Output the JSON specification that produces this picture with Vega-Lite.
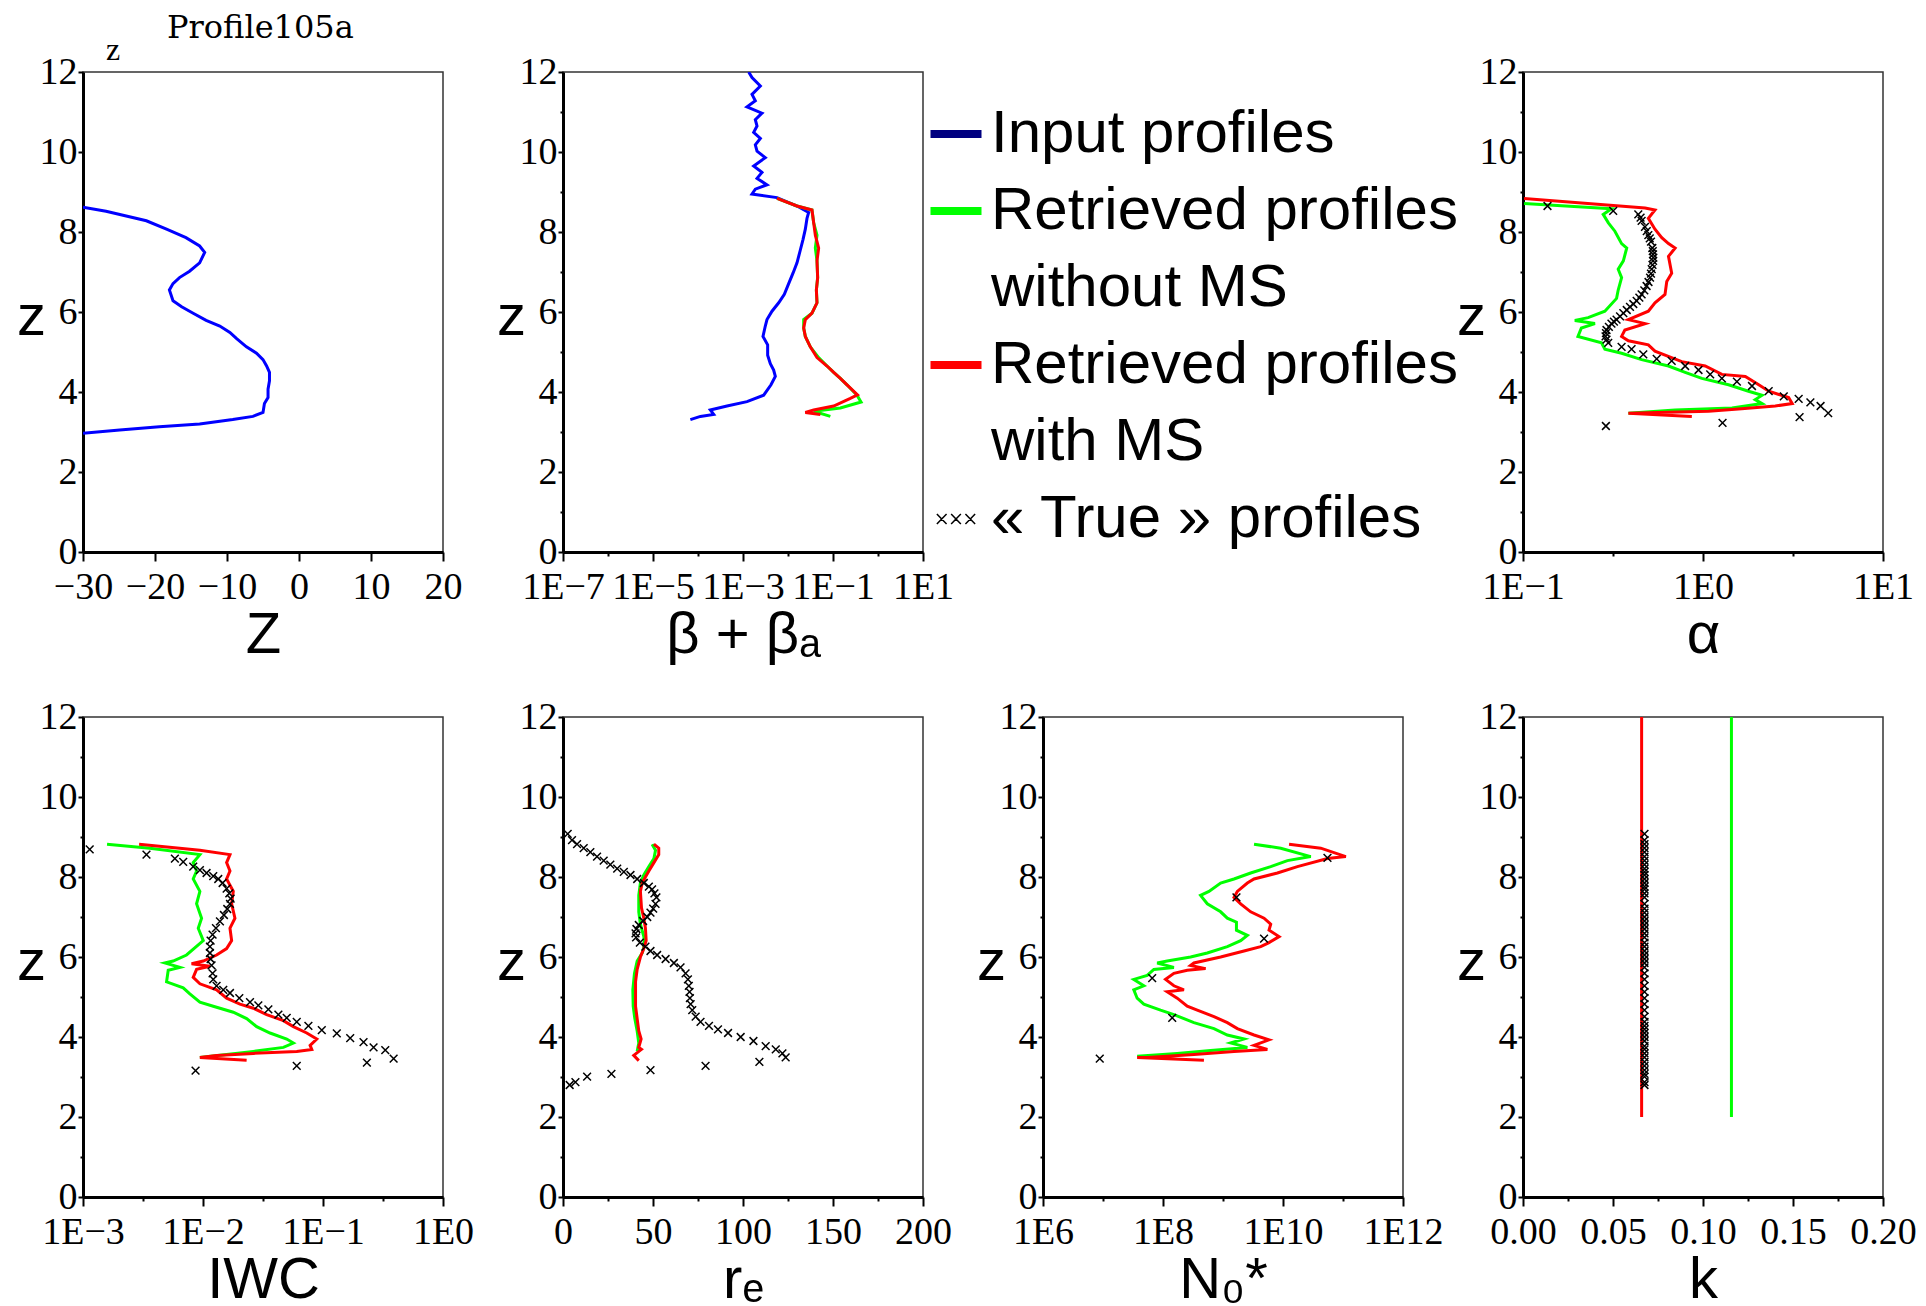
{
  "$schema": "https://vega.github.io/schema/vega-lite/v6.json",
  "background": "white",
  "padding": {"left": 15, "top": 11, "right": 0, "bottom": 0},
  "columns": 4,
  "spacing": {"row": 165, "column": 120},
  "bounds": "flush",
  "config": {
    "view": {"stroke": "#333333", "strokeWidth": 1.5},
    "axis": {
      "domainColor": "black", "domainWidth": 3, "tickColor": "black", "tickWidth": 2,
      "labelFont": "Liberation Serif", "labelFontSize": 38, "labelColor": "black",
      "titleFont": "Liberation Sans", "titleFontSize": 58, "titleFontWeight": "normal", "titleColor": "black",
      "grid": false, "labelOverlap": false, "labelFlush": false, "labelBound": false
    },
    "axisX": {"titleBaseline": "alphabetic", "titleY": 100, "labelPadding": 7, "labelBaseline": "top"},
    "axisY": {"titleAngle": 0, "titleX": -52, "titleY": 245, "titleAlign": "center", "titleBaseline": "middle", "labelPadding": 1, "labelBaseline": "middle"}
  },
  "datasets": {
    "Z": [
      {"s":"in","v":-30,"z":8.62},{"s":"in","v":-26.8,"z":8.52},{"s":"in","v":-21.2,"z":8.28},{"s":"in","v":-18.4,"z":8.07},{"s":"in","v":-15.7,"z":7.86},{"s":"in","v":-13.8,"z":7.65},{"s":"in","v":-13.1,"z":7.49},{"s":"in","v":-13.8,"z":7.23},{"s":"in","v":-15.2,"z":7.02},{"s":"in","v":-16.6,"z":6.86},{"s":"in","v":-17.5,"z":6.71},{"s":"in","v":-18,"z":6.55},{"s":"in","v":-17.5,"z":6.28},{"s":"in","v":-16.3,"z":6.13},{"s":"in","v":-14.7,"z":5.97},{"s":"in","v":-12.9,"z":5.79},{"s":"in","v":-11,"z":5.65},{"s":"in","v":-9.6,"z":5.49},{"s":"in","v":-8.7,"z":5.34},{"s":"in","v":-7.3,"z":5.13},{"s":"in","v":-5.9,"z":4.97},{"s":"in","v":-5,"z":4.81},{"s":"in","v":-4.5,"z":4.65},{"s":"in","v":-4.1,"z":4.49},{"s":"in","v":-4.1,"z":4.28},{"s":"in","v":-4.3,"z":4.07},{"s":"in","v":-4.3,"z":3.86},{"s":"in","v":-4.8,"z":3.71},{"s":"in","v":-5,"z":3.49},{"s":"in","v":-6.4,"z":3.39},{"s":"in","v":-9.2,"z":3.31},{"s":"in","v":-13.8,"z":3.2},{"s":"in","v":-19.4,"z":3.13},{"s":"in","v":-24.9,"z":3.05},{"s":"in","v":-30,"z":2.97}
    ],
    "B": [
      {"s":"in","v":0.001337,"z":12.0},{"s":"in","v":0.001585,"z":11.86},{"s":"in","v":0.00243,"z":11.65},{"s":"in","v":0.001585,"z":11.44},{"s":"in","v":0.001879,"z":11.28},{"s":"in","v":0.001227,"z":11.13},{"s":"in","v":0.00264,"z":10.97},{"s":"in","v":0.001879,"z":10.81},{"s":"in","v":0.00205,"z":10.65},{"s":"in","v":0.001726,"z":10.49},{"s":"in","v":0.00243,"z":10.34},{"s":"in","v":0.001879,"z":10.18},{"s":"in","v":0.00205,"z":10.02},{"s":"in","v":0.00313,"z":9.86},{"s":"in","v":0.001726,"z":9.65},{"s":"in","v":0.00264,"z":9.49},{"s":"in","v":0.00205,"z":9.34},{"s":"in","v":0.00341,"z":9.18},{"s":"in","v":0.001879,"z":9.07},{"s":"in","v":0.001585,"z":8.95},{"s":"in","v":0.0057,"z":8.86},{"s":"in","v":0.01585,"z":8.65},{"s":"in","v":0.02877,"z":8.49},{"s":"in","v":0.02642,"z":8.34},{"s":"in","v":0.02427,"z":8.07},{"s":"in","v":0.02153,"z":7.81},{"s":"in","v":0.01879,"z":7.55},{"s":"in","v":0.01585,"z":7.23},{"s":"in","v":0.01291,"z":6.97},{"s":"in","v":0.01035,"z":6.71},{"s":"in","v":0.00829,"z":6.44},{"s":"in","v":0.00621,"z":6.23},{"s":"in","v":0.00441,"z":6.02},{"s":"in","v":0.00341,"z":5.81},{"s":"in","v":0.00313,"z":5.65},{"s":"in","v":0.00278,"z":5.39},{"s":"in","v":0.00353,"z":5.18},{"s":"in","v":0.00353,"z":4.92},{"s":"in","v":0.00405,"z":4.71},{"s":"in","v":0.0048,"z":4.55},{"s":"in","v":0.00523,"z":4.39},{"s":"in","v":0.00419,"z":4.18},{"s":"in","v":0.00288,"z":3.92},{"s":"in","v":0.001227,"z":3.76},{"s":"in","v":0.000441,"z":3.65},{"s":"in","v":0.000188,"z":3.55},{"s":"in","v":0.000223,"z":3.44},{"s":"in","v":0.000113,"z":3.39},{"s":"in","v":0.0000676,"z":3.31},
      {"s":"nms","v":0.0057,"z":8.84},{"s":"nms","v":0.01585,"z":8.65},{"s":"nms","v":0.0341,"z":8.55},{"s":"nms","v":0.0372,"z":8.23},{"s":"nms","v":0.0441,"z":7.92},{"s":"nms","v":0.0405,"z":7.6},{"s":"nms","v":0.0441,"z":7.28},{"s":"nms","v":0.0456,"z":6.86},{"s":"nms","v":0.0427,"z":6.55},{"s":"nms","v":0.0441,"z":6.23},{"s":"nms","v":0.0341,"z":5.97},{"s":"nms","v":0.0223,"z":5.81},{"s":"nms","v":0.0223,"z":5.6},{"s":"nms","v":0.02427,"z":5.39},{"s":"nms","v":0.0313,"z":5.13},{"s":"nms","v":0.048,"z":4.86},{"s":"nms","v":0.0736,"z":4.65},{"s":"nms","v":0.1035,"z":4.49},{"s":"nms","v":0.1456,"z":4.34},{"s":"nms","v":0.2046,"z":4.18},{"s":"nms","v":0.341,"z":3.92},{"s":"nms","v":0.42,"z":3.75},{"s":"nms","v":0.1456,"z":3.6},{"s":"nms","v":0.0372,"z":3.52},{"s":"nms","v":0.0873,"z":3.39},
      {"s":"ms","v":0.0057,"z":8.84},{"s":"ms","v":0.01585,"z":8.65},{"s":"ms","v":0.0341,"z":8.55},{"s":"ms","v":0.0372,"z":8.23},{"s":"ms","v":0.0405,"z":7.92},{"s":"ms","v":0.048,"z":7.6},{"s":"ms","v":0.0441,"z":7.28},{"s":"ms","v":0.0456,"z":6.86},{"s":"ms","v":0.0427,"z":6.55},{"s":"ms","v":0.0441,"z":6.23},{"s":"ms","v":0.0341,"z":5.97},{"s":"ms","v":0.02427,"z":5.81},{"s":"ms","v":0.0223,"z":5.6},{"s":"ms","v":0.02427,"z":5.39},{"s":"ms","v":0.0313,"z":5.13},{"s":"ms","v":0.0441,"z":4.86},{"s":"ms","v":0.0736,"z":4.65},{"s":"ms","v":0.1035,"z":4.49},{"s":"ms","v":0.1456,"z":4.34},{"s":"ms","v":0.2046,"z":4.18},{"s":"ms","v":0.35,"z":3.93},{"s":"ms","v":0.2427,"z":3.84},{"s":"ms","v":0.1035,"z":3.65},{"s":"ms","v":0.0372,"z":3.55},{"s":"ms","v":0.02427,"z":3.49},{"s":"ms","v":0.0524,"z":3.44}
    ],
    "A": [
      {"s":"nms","v":0.1014,"z":8.71},{"s":"nms","v":0.31,"z":8.58},{"s":"nms","v":0.279,"z":8.44},{"s":"nms","v":0.298,"z":8.23},{"s":"nms","v":0.324,"z":8.02},{"s":"nms","v":0.353,"z":7.71},{"s":"nms","v":0.377,"z":7.6},{"s":"nms","v":0.361,"z":7.28},{"s":"nms","v":0.338,"z":7.07},{"s":"nms","v":0.353,"z":6.86},{"s":"nms","v":0.338,"z":6.55},{"s":"nms","v":0.331,"z":6.34},{"s":"nms","v":0.285,"z":6.02},{"s":"nms","v":0.23,"z":5.86},{"s":"nms","v":0.194,"z":5.79},{"s":"nms","v":0.251,"z":5.71},{"s":"nms","v":0.211,"z":5.6},{"s":"nms","v":0.202,"z":5.39},{"s":"nms","v":0.273,"z":5.23},{"s":"nms","v":0.285,"z":5.07},{"s":"nms","v":0.353,"z":4.97},{"s":"nms","v":0.456,"z":4.81},{"s":"nms","v":0.643,"z":4.65},{"s":"nms","v":0.796,"z":4.49},{"s":"nms","v":0.985,"z":4.34},{"s":"nms","v":1.387,"z":4.18},{"s":"nms","v":1.79,"z":4.02},{"s":"nms","v":2.13,"z":3.92},{"s":"nms","v":1.95,"z":3.81},{"s":"nms","v":2.13,"z":3.71},{"s":"nms","v":1.449,"z":3.6},{"s":"nms","v":0.7,"z":3.55},{"s":"nms","v":0.385,"z":3.47},
      {"s":"ms","v":0.1014,"z":8.84},{"s":"ms","v":0.477,"z":8.6},{"s":"ms","v":0.541,"z":8.55},{"s":"ms","v":0.497,"z":8.34},{"s":"ms","v":0.541,"z":8.07},{"s":"ms","v":0.59,"z":7.86},{"s":"ms","v":0.643,"z":7.71},{"s":"ms","v":0.7,"z":7.6},{"s":"ms","v":0.643,"z":7.39},{"s":"ms","v":0.67,"z":6.97},{"s":"ms","v":0.629,"z":6.76},{"s":"ms","v":0.615,"z":6.44},{"s":"ms","v":0.541,"z":6.23},{"s":"ms","v":0.497,"z":6.02},{"s":"ms","v":0.385,"z":5.81},{"s":"ms","v":0.477,"z":5.71},{"s":"ms","v":0.368,"z":5.55},{"s":"ms","v":0.353,"z":5.39},{"s":"ms","v":0.385,"z":5.28},{"s":"ms","v":0.497,"z":5.18},{"s":"ms","v":0.541,"z":5.02},{"s":"ms","v":0.762,"z":4.76},{"s":"ms","v":1.028,"z":4.65},{"s":"ms","v":1.273,"z":4.44},{"s":"ms","v":1.718,"z":4.39},{"s":"ms","v":2.04,"z":4.18},{"s":"ms","v":2.32,"z":4.02},{"s":"ms","v":2.99,"z":3.86},{"s":"ms","v":3.13,"z":3.71},{"s":"ms","v":2.52,"z":3.65},{"s":"ms","v":1.64,"z":3.58},{"s":"ms","v":1.074,"z":3.52},{"s":"ms","v":0.385,"z":3.47},{"s":"ms","v":0.867,"z":3.39},
      {"s":"tr","v":0.1368,"z":8.65},{"s":"tr","v":0.317,"z":8.53},{"s":"tr","v":0.437,"z":8.44},{"s":"tr","v":0.45,"z":8.36},{"s":"tr","v":0.456,"z":8.28},{"s":"tr","v":0.476,"z":8.13},{"s":"tr","v":0.487,"z":8.02},{"s":"tr","v":0.497,"z":7.92},{"s":"tr","v":0.506,"z":7.84},{"s":"tr","v":0.514,"z":7.76},{"s":"tr","v":0.523,"z":7.6},{"s":"tr","v":0.526,"z":7.52},{"s":"tr","v":0.528,"z":7.44},{"s":"tr","v":0.53,"z":7.36},{"s":"tr","v":0.528,"z":7.28},{"s":"tr","v":0.524,"z":7.18},{"s":"tr","v":0.519,"z":7.07},{"s":"tr","v":0.514,"z":6.96},{"s":"tr","v":0.508,"z":6.86},{"s":"tr","v":0.498,"z":6.75},{"s":"tr","v":0.486,"z":6.65},{"s":"tr","v":0.472,"z":6.54},{"s":"tr","v":0.456,"z":6.44},{"s":"tr","v":0.443,"z":6.36},{"s":"tr","v":0.428,"z":6.28},{"s":"tr","v":0.41,"z":6.2},{"s":"tr","v":0.393,"z":6.13},{"s":"tr","v":0.377,"z":6.05},{"s":"tr","v":0.361,"z":5.97},{"s":"tr","v":0.346,"z":5.89},{"s":"tr","v":0.331,"z":5.81},{"s":"tr","v":0.32,"z":5.76},{"s":"tr","v":0.31,"z":5.71},{"s":"tr","v":0.3,"z":5.63},{"s":"tr","v":0.291,"z":5.55},{"s":"tr","v":0.289,"z":5.47},{"s":"tr","v":0.2875,"z":5.39},{"s":"tr","v":0.291,"z":5.31},{"s":"tr","v":0.2975,"z":5.23},{"s":"tr","v":0.353,"z":5.13},{"s":"tr","v":0.401,"z":5.07},{"s":"tr","v":0.466,"z":4.94},{"s":"tr","v":0.553,"z":4.83},{"s":"tr","v":0.67,"z":4.78},{"s":"tr","v":0.796,"z":4.65},{"s":"tr","v":0.944,"z":4.55},{"s":"tr","v":1.096,"z":4.44},{"s":"tr","v":1.273,"z":4.34},{"s":"tr","v":1.543,"z":4.26},{"s":"tr","v":1.871,"z":4.15},{"s":"tr","v":2.317,"z":4.02},{"s":"tr","v":2.81,"z":3.89},{"s":"tr","v":3.4,"z":3.83},{"s":"tr","v":3.95,"z":3.74},{"s":"tr","v":4.5,"z":3.65},{"s":"tr","v":4.96,"z":3.47},{"s":"tr","v":3.44,"z":3.37},{"s":"tr","v":1.284,"z":3.23},{"s":"tr","v":0.2887,"z":3.15}
    ],
    "I": [
      {"s":"nms","v":0.001586,"z":8.82},{"s":"nms","v":0.003602,"z":8.72},{"s":"nms","v":0.00942,"z":8.56},{"s":"nms","v":0.00829,"z":8.36},{"s":"nms","v":0.00884,"z":8.15},{"s":"nms","v":0.00829,"z":7.95},{"s":"nms","v":0.00942,"z":7.64},{"s":"nms","v":0.00884,"z":7.33},{"s":"nms","v":0.00973,"z":6.97},{"s":"nms","v":0.00913,"z":6.72},{"s":"nms","v":0.01005,"z":6.41},{"s":"nms","v":0.00729,"z":6.05},{"s":"nms","v":0.00564,"z":5.9},{"s":"nms","v":0.00481,"z":5.85},{"s":"nms","v":0.00641,"z":5.74},{"s":"nms","v":0.00513,"z":5.67},{"s":"nms","v":0.00497,"z":5.38},{"s":"nms","v":0.00684,"z":5.23},{"s":"nms","v":0.00777,"z":5.08},{"s":"nms","v":0.00942,"z":4.87},{"s":"nms","v":0.01217,"z":4.77},{"s":"nms","v":0.01788,"z":4.62},{"s":"nms","v":0.0231,"z":4.46},{"s":"nms","v":0.028,"z":4.26},{"s":"nms","v":0.03619,"z":4.1},{"s":"nms","v":0.04986,"z":3.95},{"s":"nms","v":0.05666,"z":3.85},{"s":"nms","v":0.04677,"z":3.74},{"s":"nms","v":0.02626,"z":3.64},{"s":"nms","v":0.00942,"z":3.49},
      {"s":"ms","v":0.002935,"z":8.82},{"s":"ms","v":0.00942,"z":8.67},{"s":"ms","v":0.01678,"z":8.56},{"s":"ms","v":0.01573,"z":8.36},{"s":"ms","v":0.01678,"z":8.15},{"s":"ms","v":0.01573,"z":7.95},{"s":"ms","v":0.01788,"z":7.64},{"s":"ms","v":0.01732,"z":7.33},{"s":"ms","v":0.01846,"z":6.97},{"s":"ms","v":0.01678,"z":6.72},{"s":"ms","v":0.01732,"z":6.41},{"s":"ms","v":0.01573,"z":6.21},{"s":"ms","v":0.01298,"z":6.05},{"s":"ms","v":0.01005,"z":5.9},{"s":"ms","v":0.00803,"z":5.83},{"s":"ms","v":0.01142,"z":5.77},{"s":"ms","v":0.00884,"z":5.69},{"s":"ms","v":0.00829,"z":5.49},{"s":"ms","v":0.00942,"z":5.33},{"s":"ms","v":0.01298,"z":5.18},{"s":"ms","v":0.01573,"z":4.97},{"s":"ms","v":0.02033,"z":4.82},{"s":"ms","v":0.02626,"z":4.72},{"s":"ms","v":0.03393,"z":4.56},{"s":"ms","v":0.04677,"z":4.41},{"s":"ms","v":0.05666,"z":4.26},{"s":"ms","v":0.07322,"z":4.1},{"s":"ms","v":0.08875,"z":3.95},{"s":"ms","v":0.0781,"z":3.79},{"s":"ms","v":0.08063,"z":3.69},{"s":"ms","v":0.06043,"z":3.64},{"s":"ms","v":0.02626,"z":3.59},{"s":"ms","v":0.01298,"z":3.54},{"s":"ms","v":0.00942,"z":3.49},{"s":"ms","v":0.0231,"z":3.42},
      {"s":"tr","v":0.001137,"z":8.69},{"s":"tr","v":0.00338,"z":8.56},{"s":"tr","v":0.00583,"z":8.46},{"s":"tr","v":0.00684,"z":8.38},{"s":"tr","v":0.00829,"z":8.26},{"s":"tr","v":0.00942,"z":8.17},{"s":"tr","v":0.01071,"z":8.1},{"s":"tr","v":0.01217,"z":8.02},{"s":"tr","v":0.0134,"z":7.95},{"s":"tr","v":0.01457,"z":7.85},{"s":"tr","v":0.01573,"z":7.71},{"s":"tr","v":0.01656,"z":7.59},{"s":"tr","v":0.01699,"z":7.46},{"s":"tr","v":0.01678,"z":7.33},{"s":"tr","v":0.01593,"z":7.2},{"s":"tr","v":0.01494,"z":7.05},{"s":"tr","v":0.01384,"z":6.89},{"s":"tr","v":0.01282,"z":6.72},{"s":"tr","v":0.01202,"z":6.56},{"s":"tr","v":0.01157,"z":6.41},{"s":"tr","v":0.01142,"z":6.26},{"s":"tr","v":0.01142,"z":6.1},{"s":"tr","v":0.01157,"z":5.95},{"s":"tr","v":0.01179,"z":5.79},{"s":"tr","v":0.01202,"z":5.59},{"s":"tr","v":0.01217,"z":5.44},{"s":"tr","v":0.01298,"z":5.28},{"s":"tr","v":0.01475,"z":5.18},{"s":"tr","v":0.01678,"z":5.1},{"s":"tr","v":0.02007,"z":4.97},{"s":"tr","v":0.02464,"z":4.87},{"s":"tr","v":0.02892,"z":4.79},{"s":"tr","v":0.03505,"z":4.69},{"s":"tr","v":0.04248,"z":4.56},{"s":"tr","v":0.04984,"z":4.48},{"s":"tr","v":0.06043,"z":4.38},{"s":"tr","v":0.07557,"z":4.28},{"s":"tr","v":0.0977,"z":4.17},{"s":"tr","v":0.1303,"z":4.09},{"s":"tr","v":0.1685,"z":3.97},{"s":"tr","v":0.2177,"z":3.87},{"s":"tr","v":0.2639,"z":3.74},{"s":"tr","v":0.3303,"z":3.67},{"s":"tr","v":0.3877,"z":3.46},{"s":"tr","v":0.2321,"z":3.36},{"s":"tr","v":0.06043,"z":3.28},{"s":"tr","v":0.00867,"z":3.16}
    ],
    "R": [
      {"s":"nms","v":49.5,"z":8.82},{"s":"nms","v":51.4,"z":8.67},{"s":"nms","v":50.5,"z":8.46},{"s":"nms","v":47.7,"z":8.26},{"s":"nms","v":44.9,"z":8.05},{"s":"nms","v":43,"z":7.85},{"s":"nms","v":42.1,"z":7.54},{"s":"nms","v":42.1,"z":7.13},{"s":"nms","v":43,"z":6.82},{"s":"nms","v":44.9,"z":6.51},{"s":"nms","v":45.3,"z":6.31},{"s":"nms","v":44,"z":6.1},{"s":"nms","v":41.2,"z":5.9},{"s":"nms","v":39.7,"z":5.59},{"s":"nms","v":38.8,"z":5.18},{"s":"nms","v":39,"z":4.77},{"s":"nms","v":39.9,"z":4.46},{"s":"nms","v":41.2,"z":4.15},{"s":"nms","v":42.1,"z":3.85},{"s":"nms","v":41.2,"z":3.64},
      {"s":"ms","v":50.5,"z":8.82},{"s":"ms","v":53.2,"z":8.72},{"s":"ms","v":53.2,"z":8.56},{"s":"ms","v":50.5,"z":8.36},{"s":"ms","v":47.7,"z":8.15},{"s":"ms","v":45.8,"z":8.0},{"s":"ms","v":44,"z":7.85},{"s":"ms","v":43,"z":7.64},{"s":"ms","v":43.6,"z":7.23},{"s":"ms","v":44.9,"z":6.97},{"s":"ms","v":45.8,"z":6.72},{"s":"ms","v":46.2,"z":6.41},{"s":"ms","v":44.9,"z":6.21},{"s":"ms","v":43,"z":6.0},{"s":"ms","v":41.2,"z":5.69},{"s":"ms","v":40.3,"z":5.38},{"s":"ms","v":40.3,"z":5.08},{"s":"ms","v":40.3,"z":4.77},{"s":"ms","v":41.2,"z":4.46},{"s":"ms","v":42.1,"z":4.15},{"s":"ms","v":43.4,"z":3.95},{"s":"ms","v":42.1,"z":3.74},{"s":"ms","v":43.6,"z":3.69},{"s":"ms","v":39.3,"z":3.54},{"s":"ms","v":42.1,"z":3.41},
      {"s":"tr","v":2.6,"z":9.08},{"s":"tr","v":5,"z":8.92},{"s":"tr","v":7.8,"z":8.82},{"s":"tr","v":11.5,"z":8.72},{"s":"tr","v":15.2,"z":8.62},{"s":"tr","v":18.9,"z":8.51},{"s":"tr","v":22.6,"z":8.41},{"s":"tr","v":26.3,"z":8.31},{"s":"tr","v":30.1,"z":8.21},{"s":"tr","v":33.8,"z":8.13},{"s":"tr","v":37.5,"z":8.05},{"s":"tr","v":41.2,"z":7.95},{"s":"tr","v":44.9,"z":7.85},{"s":"tr","v":47.7,"z":7.76},{"s":"tr","v":49.5,"z":7.69},{"s":"tr","v":50.8,"z":7.59},{"s":"tr","v":51.9,"z":7.49},{"s":"tr","v":51.4,"z":7.33},{"s":"tr","v":50.1,"z":7.21},{"s":"tr","v":48.6,"z":7.11},{"s":"tr","v":46.8,"z":7.0},{"s":"tr","v":44.5,"z":6.9},{"s":"tr","v":42.1,"z":6.8},{"s":"tr","v":40.8,"z":6.7},{"s":"tr","v":40.3,"z":6.59},{"s":"tr","v":40.6,"z":6.49},{"s":"tr","v":42.7,"z":6.36},{"s":"tr","v":45.8,"z":6.26},{"s":"tr","v":48.6,"z":6.15},{"s":"tr","v":52.3,"z":6.05},{"s":"tr","v":57,"z":5.95},{"s":"tr","v":61.6,"z":5.85},{"s":"tr","v":65.3,"z":5.74},{"s":"tr","v":68.1,"z":5.59},{"s":"tr","v":69.4,"z":5.44},{"s":"tr","v":69.9,"z":5.28},{"s":"tr","v":70.3,"z":5.13},{"s":"tr","v":70.5,"z":4.97},{"s":"tr","v":70.9,"z":4.82},{"s":"tr","v":71.8,"z":4.67},{"s":"tr","v":73.7,"z":4.51},{"s":"tr","v":76.4,"z":4.38},{"s":"tr","v":81.1,"z":4.28},{"s":"tr","v":86.1,"z":4.19},{"s":"tr","v":91.7,"z":4.1},{"s":"tr","v":98.7,"z":4.0},{"s":"tr","v":105.8,"z":3.9},{"s":"tr","v":112.6,"z":3.77},{"s":"tr","v":118.2,"z":3.69},{"s":"tr","v":121.9,"z":3.59},{"s":"tr","v":123.7,"z":3.49},{"s":"tr","v":109.1,"z":3.38},{"s":"tr","v":79.2,"z":3.28},{"s":"tr","v":48.6,"z":3.17},{"s":"tr","v":26.9,"z":3.08},{"s":"tr","v":13.4,"z":3.01},{"s":"tr","v":6.9,"z":2.87},{"s":"tr","v":3.7,"z":2.8}
    ],
    "N": [
      {"s":"nms","v":3.289e9,"z":8.82},{"s":"nms","v":9.17e9,"z":8.72},{"s":"nms","v":2.903e10,"z":8.51},{"s":"nms","v":1.184e10,"z":8.41},{"s":"nms","v":6.24e9,"z":8.26},{"s":"nms","v":2.893e9,"z":8.1},{"s":"nms","v":1.525e9,"z":7.95},{"s":"nms","v":9.13e8,"z":7.85},{"s":"nms","v":5.83e8,"z":7.64},{"s":"nms","v":4.23e8,"z":7.54},{"s":"nms","v":5.47e8,"z":7.33},{"s":"nms","v":9.13e8,"z":7.13},{"s":"nms","v":1.18e9,"z":6.97},{"s":"nms","v":1.675e9,"z":6.87},{"s":"nms","v":1.675e9,"z":6.67},{"s":"nms","v":2.546e9,"z":6.54},{"s":"nms","v":1.97e9,"z":6.41},{"s":"nms","v":1.18e9,"z":6.26},{"s":"nms","v":5.47e8,"z":6.1},{"s":"nms","v":2.883e8,"z":6.0},{"s":"nms","v":1.175e8,"z":5.9},{"s":"nms","v":8.0e7,"z":5.85},{"s":"nms","v":1.519e8,"z":5.74},{"s":"nms","v":7.04e7,"z":5.69},{"s":"nms","v":5.45e7,"z":5.54},{"s":"nms","v":3.26e7,"z":5.44},{"s":"nms","v":4.79e7,"z":5.28},{"s":"nms","v":3.26e7,"z":5.18},{"s":"nms","v":3.71e7,"z":4.97},{"s":"nms","v":4.79e7,"z":4.82},{"s":"nms","v":9.1e7,"z":4.67},{"s":"nms","v":1.519e8,"z":4.56},{"s":"nms","v":3.276e8,"z":4.36},{"s":"nms","v":7.07e8,"z":4.21},{"s":"nms","v":1.18e9,"z":4.05},{"s":"nms","v":2.239e9,"z":3.95},{"s":"nms","v":1.341e9,"z":3.85},{"s":"nms","v":2.546e9,"z":3.74},{"s":"nms","v":6.22e8,"z":3.66},{"s":"nms","v":1.726e8,"z":3.59},{"s":"nms","v":3.71e7,"z":3.52},
      {"s":"ms","v":1.262e10,"z":8.82},{"s":"ms","v":4.26e10,"z":8.72},{"s":"ms","v":1.115e11,"z":8.51},{"s":"ms","v":5.51e10,"z":8.46},{"s":"ms","v":1.738e10,"z":8.26},{"s":"ms","v":8.07e9,"z":8.1},{"s":"ms","v":3.289e9,"z":7.95},{"s":"ms","v":2.546e9,"z":7.85},{"s":"ms","v":1.733e9,"z":7.64},{"s":"ms","v":1.525e9,"z":7.49},{"s":"ms","v":1.97e9,"z":7.33},{"s":"ms","v":2.893e9,"z":7.13},{"s":"ms","v":4.83e9,"z":6.97},{"s":"ms","v":6.24e9,"z":6.82},{"s":"ms","v":5.85e9,"z":6.67},{"s":"ms","v":8.6e9,"z":6.51},{"s":"ms","v":5.85e9,"z":6.36},{"s":"ms","v":4.25e9,"z":6.26},{"s":"ms","v":2.239e9,"z":6.15},{"s":"ms","v":9.13e8,"z":6.0},{"s":"ms","v":3.276e8,"z":5.85},{"s":"ms","v":2.883e8,"z":5.79},{"s":"ms","v":5.13e8,"z":5.71},{"s":"ms","v":2.535e8,"z":5.67},{"s":"ms","v":1.519e8,"z":5.59},{"s":"ms","v":1.102e8,"z":5.44},{"s":"ms","v":1.519e8,"z":5.28},{"s":"ms","v":2.231e8,"z":5.18},{"s":"ms","v":1.175e8,"z":5.13},{"s":"ms","v":1.726e8,"z":4.97},{"s":"ms","v":2.535e8,"z":4.77},{"s":"ms","v":3.724e8,"z":4.67},{"s":"ms","v":7.07e8,"z":4.51},{"s":"ms","v":1.18e9,"z":4.36},{"s":"ms","v":1.733e9,"z":4.21},{"s":"ms","v":3.289e9,"z":4.05},{"s":"ms","v":5.85e9,"z":3.93},{"s":"ms","v":3.289e9,"z":3.79},{"s":"ms","v":5.49e9,"z":3.69},{"s":"ms","v":1.525e9,"z":3.64},{"s":"ms","v":3.276e8,"z":3.56},{"s":"ms","v":5.45e7,"z":3.49},{"s":"ms","v":3.71e7,"z":3.49},{"s":"ms","v":4.81e8,"z":3.42},
      {"s":"tr","v":5.51e10,"z":8.48},{"s":"tr","v":1.675e9,"z":7.49},{"s":"tr","v":4.83e9,"z":6.46},{"s":"tr","v":6.6e7,"z":5.47},{"s":"tr","v":1.424e8,"z":4.48},{"s":"tr","v":8.83e6,"z":3.46}
    ],
    "K": [
      {"s":"nms","v":0.1158,"z":2.0},{"s":"nms","v":0.1158,"z":12.0},
      {"s":"ms","v":0.0659,"z":2.0},{"s":"ms","v":0.0659,"z":12.0},
      {"s":"tr","v":0.0675,"z":9.08},{"s":"tr","v":0.0675,"z":8.92},{"s":"tr","v":0.0675,"z":8.82},{"s":"tr","v":0.0675,"z":8.72},{"s":"tr","v":0.0675,"z":8.62},{"s":"tr","v":0.0675,"z":8.51},{"s":"tr","v":0.0675,"z":8.41},{"s":"tr","v":0.0675,"z":8.31},{"s":"tr","v":0.0675,"z":8.21},{"s":"tr","v":0.0675,"z":8.13},{"s":"tr","v":0.0675,"z":8.05},{"s":"tr","v":0.0675,"z":7.95},{"s":"tr","v":0.0675,"z":7.85},{"s":"tr","v":0.0675,"z":7.76},{"s":"tr","v":0.0675,"z":7.69},{"s":"tr","v":0.0675,"z":7.59},{"s":"tr","v":0.0675,"z":7.49},{"s":"tr","v":0.0675,"z":7.33},{"s":"tr","v":0.0675,"z":7.21},{"s":"tr","v":0.0675,"z":7.11},{"s":"tr","v":0.0675,"z":7.0},{"s":"tr","v":0.0675,"z":6.9},{"s":"tr","v":0.0675,"z":6.8},{"s":"tr","v":0.0675,"z":6.7},{"s":"tr","v":0.0675,"z":6.59},{"s":"tr","v":0.0675,"z":6.49},{"s":"tr","v":0.0675,"z":6.36},{"s":"tr","v":0.0675,"z":6.26},{"s":"tr","v":0.0675,"z":6.15},{"s":"tr","v":0.0675,"z":6.05},{"s":"tr","v":0.0675,"z":5.95},{"s":"tr","v":0.0675,"z":5.85},{"s":"tr","v":0.0675,"z":5.74},{"s":"tr","v":0.0675,"z":5.59},{"s":"tr","v":0.0675,"z":5.44},{"s":"tr","v":0.0675,"z":5.28},{"s":"tr","v":0.0675,"z":5.13},{"s":"tr","v":0.0675,"z":4.97},{"s":"tr","v":0.0675,"z":4.82},{"s":"tr","v":0.0675,"z":4.67},{"s":"tr","v":0.0675,"z":4.51},{"s":"tr","v":0.0675,"z":4.38},{"s":"tr","v":0.0675,"z":4.28},{"s":"tr","v":0.0675,"z":4.19},{"s":"tr","v":0.0675,"z":4.1},{"s":"tr","v":0.0675,"z":4.0},{"s":"tr","v":0.0675,"z":3.9},{"s":"tr","v":0.0675,"z":3.77},{"s":"tr","v":0.0675,"z":3.69},{"s":"tr","v":0.0675,"z":3.59},{"s":"tr","v":0.0675,"z":3.49},{"s":"tr","v":0.0675,"z":3.38},{"s":"tr","v":0.0675,"z":3.28},{"s":"tr","v":0.0675,"z":3.17},{"s":"tr","v":0.0675,"z":3.08},{"s":"tr","v":0.0675,"z":3.01},{"s":"tr","v":0.0675,"z":2.87},{"s":"tr","v":0.0675,"z":2.8}
    ]
  },
  "concat": [
    {
      "width": 360, "height": 480,
      "title": {"text": "Profile105a", "anchor": "start", "frame": "group", "dx": 84, "font": "DejaVu Serif", "fontSize": 32, "fontWeight": "normal", "color": "black", "baseline": "alphabetic", "offset": -36},
      "layer": [
        {
          "data": {"name": "Z"},
          "mark": {"type": "line", "strokeWidth": 3, "clip": true, "color": "#0000ff"},
          "encoding": {
            "x": {"field": "v", "type": "quantitative", "title": "Z", "scale": {"domain": [-30, 20], "nice": false, "zero": false},
                  "axis": {"values": [-30,-25,-20,-15,-10,-5,0,5,10,15,20], "labelExpr": "datum.value % 10 === 0 ? datum.label : ''", "tickSize": {"condition": {"test": "datum.value % 10 === 0", "value": 9}, "value": 4}}},
            "y": {"field": "z", "type": "quantitative", "title": "z", "scale": {"domain": [0, 12], "nice": false},
                  "axis": {"values": [0,1,2,3,4,5,6,7,8,9,10,11,12], "labelExpr": "datum.value % 2 === 0 ? datum.label : ''", "tickSize": {"condition": {"test": "datum.value % 2 === 0", "value": 5}, "value": 3}}},
            "order": {"value": null}
          }
        },
        {
          "data": {"values": [{}]},
          "mark": {"type": "text", "font": "Liberation Serif", "fontSize": 32, "dx": 30, "dy": -12, "baseline": "alphabetic", "align": "center", "color": "black"},
          "encoding": {"x": {"datum": -30, "type": "quantitative"}, "y": {"datum": 12, "type": "quantitative"}, "text": {"value": "z"}}
        }
      ]
    },
    {
      "width": 360, "height": 480,
      "data": {"name": "B"},
      "encoding": {
        "x": {"field": "v", "type": "quantitative", "title": "β + βₐ", "scale": {"type": "log", "domain": [1e-7, 10], "nice": false},
              "axis": {"values": [1e-7,1e-6,1e-5,1e-4,1e-3,1e-2,1e-1,1,10], "labelExpr": "abs(round(log(datum.value)/LN10)) % 2 === 1 ? '1E' + format(round(log(datum.value)/LN10), 'd') : ''", "tickSize": {"condition": {"test": "abs(round(log(datum.value)/LN10)) % 2 === 1", "value": 9}, "value": 4}}},
        "y": {"field": "z", "type": "quantitative", "title": "z", "scale": {"domain": [0, 12], "nice": false},
              "axis": {"values": [0,1,2,3,4,5,6,7,8,9,10,11,12], "labelExpr": "datum.value % 2 === 0 ? datum.label : ''", "tickSize": {"condition": {"test": "datum.value % 2 === 0", "value": 5}, "value": 3}}}
      },
      "layer": [
        {"transform": [{"filter": "datum.s === 'in'"}], "mark": {"type": "line", "strokeWidth": 3, "clip": true, "color": "#0000ff"}, "encoding": {"order": {"value": null}}},
        {"transform": [{"filter": "datum.s !== 'in'"}], "mark": {"type": "line", "strokeWidth": 3, "clip": true},
         "encoding": {
           "order": {"value": null},
           "color": {"field": "s", "type": "nominal", "scale": {"domain": ["in","nms","ms","tr"], "range": ["#000080","#00ff00","#ff0000","#000000"]},
             "legend": {
               "orient": "none", "legendX": 843, "legendY": 32, "title": null, "direction": "vertical",
               "padding": 0, "rowPadding": 17, "symbolType": "stroke", "symbolSize": 2601, "symbolStrokeWidth": 8,
               "symbolFillColor": "transparent",
               "labelFont": "Liberation Sans", "labelFontSize": 60, "labelColor": "black", "labelOffset": 5, "labelLimit": 0, "labelBaseline": "middle",
               "labelExpr": "datum.value === 'in' ? 'Input profiles' : datum.value === 'nms' ? ['Retrieved profiles', 'without MS'] : datum.value === 'ms' ? ['Retrieved profiles', 'with MS'] : '« True » profiles'",
               "encode": {
                 "symbols": {"update": {
                   "shape": {"signal": "datum.value === 'tr' ? 'M-0.75,-0.2L-0.37,0.2M-0.75,0.2L-0.37,-0.2M-0.19,-0.2L0.19,0.2M-0.19,0.2L0.19,-0.2M0.37,-0.2L0.75,0.2M0.37,0.2L0.75,-0.2' : 'stroke'"},
                   "strokeWidth": {"signal": "datum.value === 'tr' ? 1.5 : 8"},
                   "fill": {"value": "transparent"},
                   "opacity": {"value": 1}
                 }},
                 "labels": {"update": {"lineHeight": {"value": 77}}}
               }
             }}
         }}
      ]
    },
    {
      "width": 360, "height": 480,
      "view": {"stroke": null},
      "data": {"values": [{}]},
      "mark": {"type": "point", "opacity": 0},
      "encoding": {}
    },
    {
      "width": 360, "height": 480,
      "data": {"name": "A"},
      "encoding": {
        "x": {"field": "v", "type": "quantitative", "title": "α", "scale": {"type": "log", "domain": [0.1, 10], "nice": false},
              "axis": {"values": [0.1, 0.316228, 1, 3.16228, 10], "labelExpr": "abs(log(datum.value)/LN10 - round(log(datum.value)/LN10)) < 0.01 ? '1E' + format(round(log(datum.value)/LN10), 'd') : ''", "tickSize": {"condition": {"test": "abs(log(datum.value)/LN10 - round(log(datum.value)/LN10)) < 0.01", "value": 9}, "value": 4}}},
        "y": {"field": "z", "type": "quantitative", "title": "z", "scale": {"domain": [0, 12], "nice": false},
              "axis": {"values": [0,1,2,3,4,5,6,7,8,9,10,11,12], "labelExpr": "datum.value % 2 === 0 ? datum.label : ''", "tickSize": {"condition": {"test": "datum.value % 2 === 0", "value": 5}, "value": 3}}},
        "color": {"field": "s", "type": "nominal", "scale": {"domain": ["in","nms","ms","tr"], "range": ["#000080","#00ff00","#ff0000","#000000"]}}
      },
      "layer": [
        {"transform": [{"filter": "datum.s !== 'tr'"}], "mark": {"type": "line", "strokeWidth": 3, "clip": true}, "encoding": {"order": {"value": null}}},
        {"transform": [{"filter": "datum.s === 'tr'"}], "mark": {"type": "point", "shape": "M-1,-1L1,1M-1,1L1,-1", "filled": false, "strokeWidth": 1.5, "size": 60, "opacity": 1, "clip": true}}
      ]
    },
    {
      "width": 360, "height": 480,
      "data": {"name": "I"},
      "encoding": {
        "x": {"field": "v", "type": "quantitative", "title": "IWC", "scale": {"type": "log", "domain": [0.001, 1], "nice": false},
              "axis": {"values": [0.001, 0.00316228, 0.01, 0.0316228, 0.1, 0.316228, 1], "labelExpr": "abs(log(datum.value)/LN10 - round(log(datum.value)/LN10)) < 0.01 ? '1E' + format(round(log(datum.value)/LN10), 'd') : ''", "tickSize": {"condition": {"test": "abs(log(datum.value)/LN10 - round(log(datum.value)/LN10)) < 0.01", "value": 9}, "value": 4}}},
        "y": {"field": "z", "type": "quantitative", "title": "z", "scale": {"domain": [0, 12], "nice": false},
              "axis": {"values": [0,1,2,3,4,5,6,7,8,9,10,11,12], "labelExpr": "datum.value % 2 === 0 ? datum.label : ''", "tickSize": {"condition": {"test": "datum.value % 2 === 0", "value": 5}, "value": 3}}},
        "color": {"field": "s", "type": "nominal", "scale": {"domain": ["in","nms","ms","tr"], "range": ["#000080","#00ff00","#ff0000","#000000"]}}
      },
      "layer": [
        {"transform": [{"filter": "datum.s !== 'tr'"}], "mark": {"type": "line", "strokeWidth": 3, "clip": true}, "encoding": {"order": {"value": null}}},
        {"transform": [{"filter": "datum.s === 'tr'"}], "mark": {"type": "point", "shape": "M-1,-1L1,1M-1,1L1,-1", "filled": false, "strokeWidth": 1.5, "size": 60, "opacity": 1, "clip": true}}
      ]
    },
    {
      "width": 360, "height": 480,
      "data": {"name": "R"},
      "encoding": {
        "x": {"field": "v", "type": "quantitative", "title": "rₑ", "scale": {"domain": [0, 200], "nice": false},
              "axis": {"values": [0,25,50,75,100,125,150,175,200], "labelExpr": "datum.value % 50 === 0 ? datum.label : ''", "tickSize": {"condition": {"test": "datum.value % 50 === 0", "value": 9}, "value": 4}}},
        "y": {"field": "z", "type": "quantitative", "title": "z", "scale": {"domain": [0, 12], "nice": false},
              "axis": {"values": [0,1,2,3,4,5,6,7,8,9,10,11,12], "labelExpr": "datum.value % 2 === 0 ? datum.label : ''", "tickSize": {"condition": {"test": "datum.value % 2 === 0", "value": 5}, "value": 3}}},
        "color": {"field": "s", "type": "nominal", "scale": {"domain": ["in","nms","ms","tr"], "range": ["#000080","#00ff00","#ff0000","#000000"]}}
      },
      "layer": [
        {"transform": [{"filter": "datum.s !== 'tr'"}], "mark": {"type": "line", "strokeWidth": 3, "clip": true}, "encoding": {"order": {"value": null}}},
        {"transform": [{"filter": "datum.s === 'tr'"}], "mark": {"type": "point", "shape": "M-1,-1L1,1M-1,1L1,-1", "filled": false, "strokeWidth": 1.5, "size": 60, "opacity": 1, "clip": true}}
      ]
    },
    {
      "width": 360, "height": 480,
      "data": {"name": "N"},
      "encoding": {
        "x": {"field": "v", "type": "quantitative", "title": "N₀*", "scale": {"type": "log", "domain": [1e6, 1e12], "nice": false},
              "axis": {"values": [1e6,1e7,1e8,1e9,1e10,1e11,1e12], "labelExpr": "round(log(datum.value)/LN10) % 2 === 0 ? '1E' + format(round(log(datum.value)/LN10), 'd') : ''", "tickSize": {"condition": {"test": "round(log(datum.value)/LN10) % 2 === 0", "value": 9}, "value": 4}}},
        "y": {"field": "z", "type": "quantitative", "title": "z", "scale": {"domain": [0, 12], "nice": false},
              "axis": {"values": [0,1,2,3,4,5,6,7,8,9,10,11,12], "labelExpr": "datum.value % 2 === 0 ? datum.label : ''", "tickSize": {"condition": {"test": "datum.value % 2 === 0", "value": 5}, "value": 3}}},
        "color": {"field": "s", "type": "nominal", "scale": {"domain": ["in","nms","ms","tr"], "range": ["#000080","#00ff00","#ff0000","#000000"]}}
      },
      "layer": [
        {"transform": [{"filter": "datum.s !== 'tr'"}], "mark": {"type": "line", "strokeWidth": 3, "clip": true}, "encoding": {"order": {"value": null}}},
        {"transform": [{"filter": "datum.s === 'tr'"}], "mark": {"type": "point", "shape": "M-1,-1L1,1M-1,1L1,-1", "filled": false, "strokeWidth": 1.5, "size": 60, "opacity": 1, "clip": true}}
      ]
    },
    {
      "width": 360, "height": 480,
      "data": {"name": "K"},
      "encoding": {
        "x": {"field": "v", "type": "quantitative", "title": "k", "scale": {"domain": [0, 0.2], "nice": false},
              "axis": {"values": [0,0.025,0.05,0.075,0.1,0.125,0.15,0.175,0.2], "format": ".2f", "labelExpr": "abs(datum.value*20 - round(datum.value*20)) < 0.001 ? datum.label : ''", "tickSize": {"condition": {"test": "abs(datum.value*20 - round(datum.value*20)) < 0.001", "value": 9}, "value": 4}}},
        "y": {"field": "z", "type": "quantitative", "title": "z", "scale": {"domain": [0, 12], "nice": false},
              "axis": {"values": [0,1,2,3,4,5,6,7,8,9,10,11,12], "labelExpr": "datum.value % 2 === 0 ? datum.label : ''", "tickSize": {"condition": {"test": "datum.value % 2 === 0", "value": 5}, "value": 3}}},
        "color": {"field": "s", "type": "nominal", "scale": {"domain": ["in","nms","ms","tr"], "range": ["#000080","#00ff00","#ff0000","#000000"]}}
      },
      "layer": [
        {"transform": [{"filter": "datum.s !== 'tr'"}], "mark": {"type": "line", "strokeWidth": 3, "clip": true}, "encoding": {"order": {"value": null}}},
        {"transform": [{"filter": "datum.s === 'tr'"}], "mark": {"type": "point", "shape": "M-1,-1L1,1M-1,1L1,-1", "filled": false, "strokeWidth": 1.5, "size": 60, "opacity": 1, "clip": true}}
      ]
    }
  ]
}
